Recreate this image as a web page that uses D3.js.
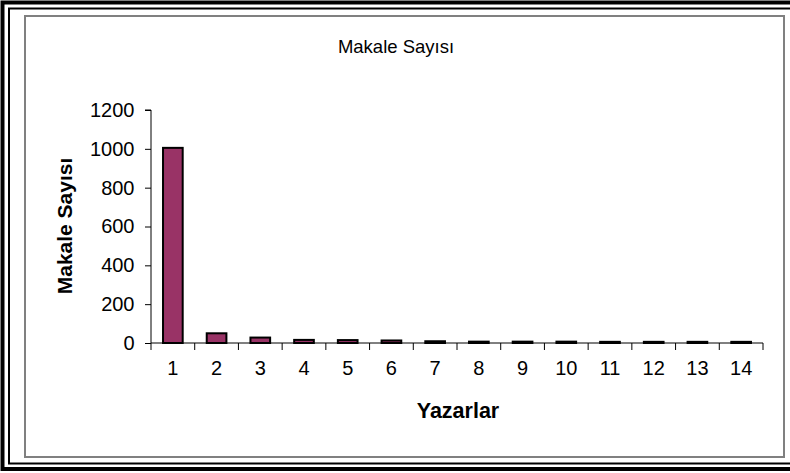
<!DOCTYPE html>
<html><head><meta charset="utf-8">
<script src="https://cdn.jsdelivr.net/npm/d3@7"></script>
<style>body{margin:0;background:#fff}svg{display:block}</style>
</head><body>
<script>
const categories = ["1","2","3","4","5","6","7","8","9","10","11","12","13","14"];
const values = [1005, 50, 28, 16, 15, 13, 9, 7, 7, 7, 6, 6, 6, 6];
const yTicks = [0, 200, 400, 600, 800, 1000, 1200];
const chartTitle = "Makale Sayısı";
const xTitle = "Yazarlar";
const yTitle = "Makale Sayısı";

const W = 790, H = 473;
const svg = d3.select("body").append("svg").attr("width", W).attr("height", H);
const font = "Liberation Sans, Arial, sans-serif";

// outer double frame
svg.append("rect").attr("x", 2.5).attr("y", 2.5).attr("width", W + 10).attr("height", 466.5)
  .attr("fill", "none").attr("stroke", "#000").attr("stroke-width", 4);
svg.append("rect").attr("x", 9).attr("y", 8.5).attr("width", W + 10).attr("height", 455)
  .attr("fill", "none").attr("stroke", "#000").attr("stroke-width", 2);
// inner chart frame
svg.append("rect").attr("x", 25).attr("y", 16).attr("width", 759).attr("height", 441)
  .attr("fill", "#fff").attr("stroke", "#808080").attr("stroke-width", 2);

const x0 = 151, x1 = 763, yTop = 110, yBot = 343;
const x = d3.scaleBand().domain(categories).range([x0, x1]).paddingInner(0.55).paddingOuter(0.275);
const xb = d3.scaleBand().domain(categories).range([x0, x1]);
const y = d3.scaleLinear().domain([0, 1200]).range([yBot, yTop]);

// bars
svg.append("g").selectAll("rect").data(values).join("rect")
  .attr("x", (d, i) => x(categories[i]))
  .attr("y", d => y(d))
  .attr("width", x.bandwidth())
  .attr("height", d => yBot - y(d))
  .attr("fill", "#993366").attr("stroke", "#000").attr("stroke-width", 2);

// y axis
const ya = svg.append("g").attr("transform", `translate(${x0},0)`)
  .call(d3.axisLeft(y).tickValues(yTicks).tickSize(6).tickPadding(10.5).tickFormat(d3.format("d")));
ya.select(".domain").attr("stroke", "#000").attr("d", `M-6,${yTop}H0V${yBot}`);
ya.selectAll(".tick line").attr("stroke", "#000");
ya.selectAll("text").attr("font-family", font).attr("font-size", 20).attr("fill", "#000");

// x axis
const xa = svg.append("g").attr("transform", `translate(0,${yBot})`)
  .call(d3.axisBottom(xb).tickSize(0).tickPadding(18));
xa.select(".domain").attr("stroke", "#000").attr("d", `M${x0},0H${x1}`);
xa.selectAll("text").attr("font-family", font).attr("font-size", 20).attr("fill", "#000");
svg.append("g").selectAll("line").data(categories.concat(["end"])).join("line")
  .attr("x1", (d, i) => x0 + i * xb.step()).attr("x2", (d, i) => x0 + i * xb.step())
  .attr("y1", yBot).attr("y2", yBot + 7).attr("stroke", "#000");

// titles
svg.append("text").attr("x", 396).attr("y", 53).attr("text-anchor", "middle")
  .attr("font-family", font).attr("font-size", 18.5).text(chartTitle);
svg.append("text").attr("x", 458).attr("y", 418).attr("text-anchor", "middle")
  .attr("font-family", font).attr("font-size", 21.5).attr("font-weight", "bold").text(xTitle);
svg.append("text").attr("transform", "translate(72,226) rotate(-90)").attr("text-anchor", "middle")
  .attr("font-family", font).attr("font-size", 21).attr("font-weight", "bold").text(yTitle);
</script>
</body></html>
